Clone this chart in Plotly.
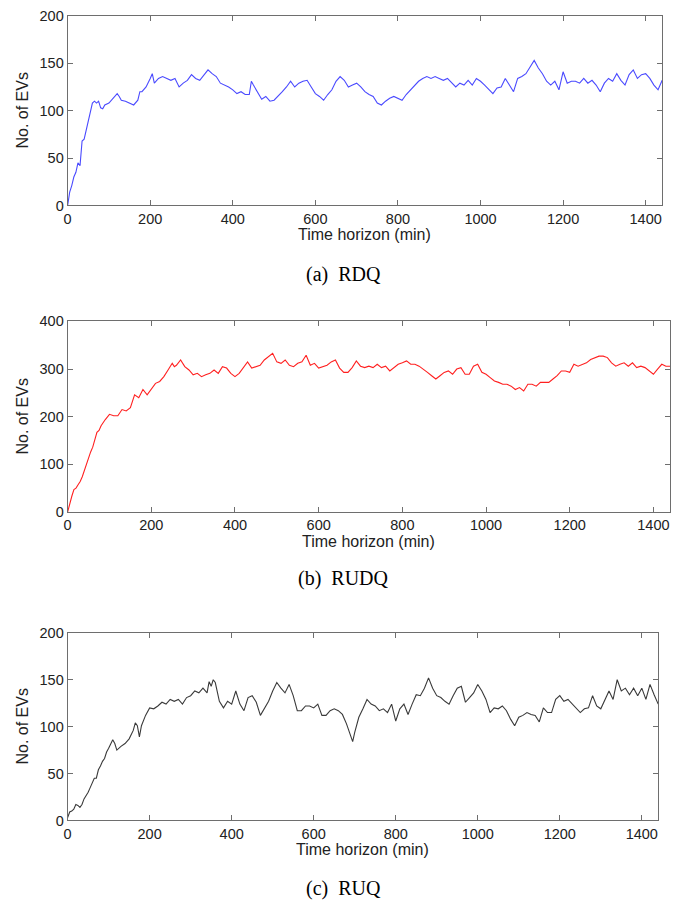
import plotly.graph_objects as go

# ---------------- data ----------------
t_rdq = [0, 5, 10, 15, 20, 25, 30, 35, 40, 45, 50, 55, 60, 65, 70, 75, 80, 85, 90,
         100, 110, 120, 125, 130, 140, 150, 160, 170, 175, 180, 190, 200, 205, 210,
         220, 230, 240, 250, 260, 270, 280, 290, 300, 310, 320, 330, 340, 350, 360,
         370, 380, 390, 400, 410, 420, 430, 440, 445, 450, 460, 470, 480, 490, 500,
         510, 520, 530, 540, 550, 560, 570, 580, 590, 600, 610, 620, 630, 640, 650,
         660, 670, 680, 690, 700, 710, 720, 730, 740, 750, 760, 770, 780, 790, 800,
         810, 820, 830, 840, 850, 860, 870, 880, 890, 900, 910, 920, 930, 940, 950,
         960, 970, 980, 990, 1000, 1010, 1020, 1030, 1040, 1050, 1060, 1070, 1080,
         1090, 1100, 1110, 1120, 1130, 1140, 1150, 1160, 1170, 1180, 1190, 1200, 1210,
         1220, 1230, 1240, 1250, 1260, 1270, 1280, 1290, 1300, 1310, 1320, 1330, 1340,
         1350, 1360, 1370, 1380, 1390, 1400, 1410, 1420, 1430, 1440]
v_rdq = [0, 14, 21, 30, 35, 45, 42, 68, 70, 80, 87, 98, 108, 110, 108, 110, 103, 102, 106,
         108, 113, 118, 115, 111, 110, 108, 106, 111, 120, 120, 125, 134, 139, 129,
         134, 136, 134, 132, 134, 125, 129, 132, 138, 134, 132, 138, 143, 139, 136,
         129, 127, 125, 122, 118, 120, 117, 117, 131, 127, 120, 112, 115, 110, 111,
         115, 120, 125, 131, 125, 129, 131, 132, 125, 118, 115, 111, 117, 122, 131,
         136, 132, 125, 127, 129, 125, 120, 117, 115, 108, 106, 110, 113, 115, 113,
         111, 117, 122, 127, 131, 134, 136, 134, 136, 134, 132, 134, 129, 125, 129,
         127, 132, 127, 134, 131, 127, 122, 118, 124, 125, 134, 127, 120,
         134, 136, 139, 146, 153, 145, 139, 131, 127, 131, 122, 141, 129,
         131, 131, 129, 134, 129, 132, 127, 120, 129, 134, 131, 139, 132,
         127, 138, 143, 134, 138, 139, 134, 127, 122, 132]

t_rudq = [0, 5, 10, 15, 20, 25, 30, 35, 40, 45, 50, 55, 60, 65, 70, 75, 80, 90, 100,
          110, 120, 130, 140, 150, 160, 170, 180, 190, 200, 210, 220, 230, 240, 250,
          255, 260, 270, 280, 290, 300, 310, 320, 330, 340, 350, 360, 370, 380, 390,
          400, 410, 420, 430, 440, 450, 460, 470, 480, 490, 500, 510, 520, 530, 540,
          550, 560, 570, 580, 590, 600, 610, 620, 630, 640, 650, 660, 670, 680, 690,
          700, 710, 720, 730, 740, 750, 760, 770, 780, 790, 800, 810, 820, 830, 840,
          850, 860, 870, 880, 890, 900, 910, 920, 930, 940, 950, 960, 970, 980, 990,
          1000, 1010, 1020, 1030, 1040, 1050, 1060, 1070, 1080, 1090, 1100, 1110, 1120,
          1130, 1140, 1150, 1160, 1170, 1180, 1190, 1200, 1210, 1220, 1230, 1240, 1250,
          1260, 1270, 1280, 1290, 1300, 1310, 1320, 1330, 1340, 1350, 1360, 1370, 1380,
          1390, 1400, 1410, 1420, 1430, 1440]
v_rudq = [0, 19, 33, 47, 50, 57, 64, 74, 88, 99, 112, 126, 136, 150, 167, 171, 181, 194, 205,
          202, 202, 215, 212, 219, 246, 240, 257, 246, 257, 270, 274, 284, 298, 312,
          305, 308, 319, 305, 298, 288, 291, 284, 288, 291, 298, 291, 305, 302, 291,
          284, 291, 302, 315, 302, 305, 308, 319, 326, 333, 315, 312, 319, 308, 305,
          312, 315, 329, 308, 312, 302, 305, 308, 315, 319, 302, 293, 293, 303, 317,
          306, 303, 306, 303, 310, 303, 306, 296, 303, 310, 313, 317, 310, 310, 306,
          300, 293, 286, 279, 286, 293, 296, 289, 300, 303, 289, 289, 306, 310, 293,
          289, 282, 275, 272, 268, 268, 264, 257, 261, 254, 268, 268, 264,
          272, 272, 272, 279, 286, 296, 296, 293, 310, 306, 310, 313, 320,
          324, 327, 327, 324, 313, 306, 310, 313, 306, 313, 303, 306, 303,
          296, 289, 300, 310, 306, 306]

t_ruq = [0, 5, 10, 15, 20, 25, 30, 35, 40, 45, 50, 55, 60, 65, 70, 75, 80, 85, 90, 95,
         100, 105, 110, 115, 120, 130, 140, 150, 160, 165, 170, 175, 180, 190, 200,
         210, 220, 230, 240, 250, 260, 270, 280, 290, 300, 310, 320, 330, 340, 345,
         350, 355, 360, 370, 380, 390, 400, 410, 420, 430, 440, 450, 460, 470, 480,
         490, 500, 510, 520, 530, 540, 550, 560, 570, 580, 590, 600, 610, 620, 630,
         640, 650, 660, 670, 680, 690, 695, 700, 710, 720, 730, 740, 750, 760, 770,
         780, 790, 800, 810, 820, 830, 840, 850, 860, 870, 880, 890, 900, 910, 920,
         930, 940, 950, 960, 970, 980, 990, 1000, 1010, 1020, 1030, 1040, 1050, 1060,
         1070, 1080, 1090, 1100, 1110, 1120, 1130, 1140, 1150, 1160, 1170, 1180, 1190,
         1200, 1210, 1220, 1230, 1240, 1250, 1260, 1270, 1280, 1290, 1300, 1310, 1320,
         1330, 1340, 1350, 1360, 1370, 1380, 1390, 1400, 1410, 1420, 1430, 1440]
v_ruq = [3, 9, 10, 12, 17, 16, 14, 17, 23, 26, 30, 35, 40, 45, 45, 54, 58, 63, 66, 73,
         77, 82, 86, 82, 75, 79, 82, 87, 96, 104, 101, 89, 101, 112, 120,
         119, 122, 126, 124, 129, 127, 129, 124, 131, 133, 138, 136, 141, 136, 148,
         143, 150, 147, 127, 120, 127, 124, 138, 124, 117, 131, 133, 126, 112, 119,
         127, 138, 147, 141, 136, 145, 133, 117, 117, 122, 122, 120, 124, 112, 112,
         117, 119, 117, 113, 103, 90, 84, 94, 110, 119, 129, 124, 122, 117, 119,
         115, 124, 106, 119, 124, 113, 124, 134, 133, 141, 152, 141, 133, 131, 127,
         124, 133, 141, 143, 126, 131, 136, 145, 138, 129, 115, 120, 119, 122,
         117, 108, 101, 110, 112, 115, 113, 112, 105, 120, 115, 115, 129,
         133, 127, 129, 124, 119, 115, 119, 120, 133, 122, 119, 129, 138,
         129, 150, 138, 141, 134, 141, 133, 141, 129, 145, 134, 124]

x_ticks = [0, 200, 400, 600, 800, 1000, 1200, 1400]
x_title = "Time horizon (min)"
y_title = "No. of EVs"
captions = ["(a)\u00a0 RDQ", "(b)\u00a0 RUDQ", "(c)\u00a0 RUQ"]

# ---------------- figure ----------------
W, H = 694, 910
fig = go.Figure()

panels = [
    dict(t=t_rdq, v=v_rdq, color="#4a4aff", x0=64, x1=662, top=8, bot=201,
         yr=[0, 200], dt=50, cap_y=271),
    dict(t=t_rudq, v=v_rudq, color="#ff2020", x0=64, x1=670, top=319, bot=513,
         yr=[0, 400], dt=100, cap_y=581),
    dict(t=t_ruq, v=v_ruq, color="#3a3a3a", x0=64, x1=658, top=636, bot=827,
         yr=[0, 200], dt=50, cap_y=896),
]

axis_color = "#6e6e6e"
tick_font = dict(family="Liberation Sans, Arial", size=14.5, color="#222")
title_font = dict(family="Liberation Sans, Arial", size=16, color="#222")

for i, p in enumerate(panels):
    n = i + 1
    xa = "x" if n == 1 else f"x{n}"
    ya = "y" if n == 1 else f"y{n}"
    fig.add_trace(go.Scatter(x=p["t"], y=p["v"], mode="lines",
                             line=dict(color=p["color"], width=1.1),
                             xaxis=xa, yaxis=ya, showlegend=False))
    dom_x = [p["x0"] / W, p["x1"] / W]
    dom_y = [1 - p["bot"] / H, 1 - p["top"] / H]
    common = dict(showline=True, linecolor=axis_color, linewidth=1, mirror="ticks",
                  ticks="inside", ticklen=5, tickcolor=axis_color, showgrid=False,
                  zeroline=False, tickfont=tick_font)
    fig.layout[f"xaxis{'' if n == 1 else n}"] = dict(
        domain=dom_x, range=[0, 1440], tickvals=x_ticks, anchor=ya, **common)
    fig.layout[f"yaxis{'' if n == 1 else n}"] = dict(
        domain=dom_y, range=p["yr"], dtick=p["dt"], anchor=xa, **common)

    cx = (p["x0"] + p["x1"]) / 2 / W
    fig.add_annotation(text=x_title, x=cx, y=1 - (p["bot"] + 30) / H,
                       xref="paper", yref="paper", showarrow=False,
                       xanchor="center", yanchor="middle", font=title_font)
    fig.add_annotation(text=y_title, x=19 / W, y=1 - (p["top"] + p["bot"]) / 2 / H,
                       xref="paper", yref="paper", showarrow=False, textangle=-90,
                       xanchor="center", yanchor="middle", font=title_font)
    fig.add_annotation(text=captions[i], x=341 / W, y=1 - p["cap_y"] / H,
                       xref="paper", yref="paper", showarrow=False,
                       xanchor="center", yanchor="middle",
                       font=dict(family="Liberation Serif, Times New Roman", size=20,
                                 color="#000"))

fig.update_layout(width=W, height=H, margin=dict(l=0, r=0, t=0, b=0),
                  paper_bgcolor="white", plot_bgcolor="white")

fig.write_html("out.html", config={"displayModeBar": False},
               post_script="document.body.style.margin='0px';"
                           "document.body.style.overflow='hidden';")
